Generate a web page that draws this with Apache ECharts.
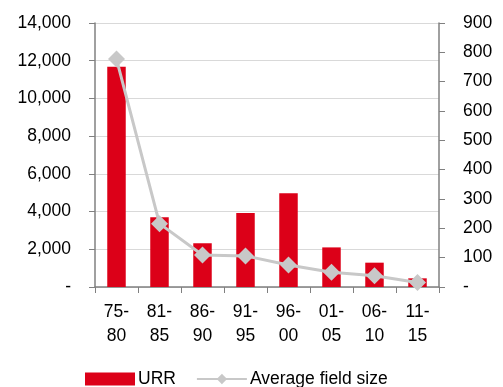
<!DOCTYPE html>
<html><head><meta charset="utf-8">
<script src="https://cdn.jsdelivr.net/npm/echarts@6/dist/echarts.min.js"></script>
<style>html,body{margin:0;padding:0;background:#fff}#c{width:503px;height:387px}</style>
</head><body><div id="c"></div>
<script>
const categories = ['75-\n80','81-\n85','86-\n90','91-\n95','96-\n00','01-\n05','06-\n10','11-\n15'];
const urr = [11680, 3700, 2320, 3920, 4970, 2100, 1290, 460];
const avgFieldSize = [777, 216, 109, 106, 75, 50, 38, 15];
const leftTicks = [0, 14000, 2000];
const rightTicks = [0, 900, 100];

const FONT = 'Arial, "Liberation Sans", sans-serif';
const FS = 17.5;
const axisColor = '#808080';
const chart = echarts.init(document.getElementById('c'));
chart.setOption({
  animation: false,
  textStyle: {fontFamily: FONT},
  grid: {left: 95, right: 64, top: 23, bottom: 100, containLabel: false},
  legend: {
    left: 80, top: 365, itemWidth: 50, itemHeight: 13, itemGap: 20,
    textStyle: {fontFamily: FONT, fontSize: FS, color: '#000', padding: [0,0,0,-2]},
    data: [{name: 'URR', icon: 'rect'}, {name: 'Average field size'}]
  },
  xAxis: {
    type: 'category', data: categories,
    axisLine: {lineStyle: {color: axisColor, width: 1.5}},
    axisTick: {show: true, length: 6, lineStyle: {color: axisColor}},
    axisLabel: {fontFamily: FONT, fontSize: FS, color: '#000', lineHeight: 24, margin: 13, interval: 0}
  },
  yAxis: [{
    type: 'value', min: leftTicks[0], max: leftTicks[1], interval: leftTicks[2],
    axisLine: {show: true, lineStyle: {color: axisColor, width: 1.5}},
    axisTick: {show: true, length: 6, lineStyle: {color: axisColor}},
    splitLine: {lineStyle: {color: '#d9d9d9', width: 1}},
    axisLabel: {fontFamily: FONT, fontSize: FS, color: '#000', margin: 24,
      formatter: v => v === 0 ? '-' : v.toLocaleString('en-US')}
  }, {
    type: 'value', min: rightTicks[0], max: rightTicks[1], interval: rightTicks[2],
    position: 'right',
    axisLine: {show: true, lineStyle: {color: axisColor, width: 1.5}},
    axisTick: {show: true, length: 6, lineStyle: {color: axisColor}},
    splitLine: {show: false},
    axisLabel: {fontFamily: FONT, fontSize: FS, color: '#000', margin: 24,
      formatter: v => v === 0 ? '-' : String(v)}
  }],
  series: [{
    name: 'URR', type: 'bar', data: urr, barWidth: '43%',
    itemStyle: {color: '#dc0018'}
  }, {
    name: 'Average field size', type: 'line', yAxisIndex: 1, data: avgFieldSize,
    symbol: 'diamond', symbolSize: 17, z: 5,
    lineStyle: {color: '#c8c8c8', width: 3},
    itemStyle: {color: '#c8c8c8'}
  }]
});
</script></body></html>
